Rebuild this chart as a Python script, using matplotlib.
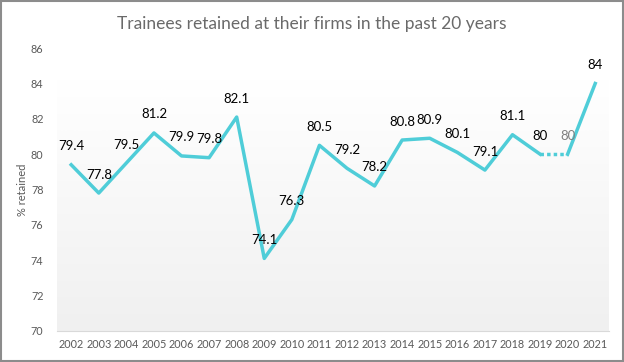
import numpy as np
import matplotlib.pyplot as plt
from matplotlib.colors import LinearSegmentedColormap

years = ['2002', '2003', '2004', '2005', '2006', '2007', '2008', '2009', '2010', '2011',
         '2012', '2013', '2014', '2015', '2016', '2017', '2018', '2019', '2020', '2021']
retained = [79.4, 77.8, 79.5, 81.2, 79.9, 79.8, 82.1, 74.1, 76.3, 80.5,
            79.2, 78.2, 80.8, 80.9, 80.1, 79.1, 81.1, 80, 80, 84]
labels = ['79.4', '77.8', '79.5', '81.2', '79.9', '79.8', '82.1', '74.1', '76.3', '80.5',
          '79.2', '78.2', '80.8', '80.9', '80.1', '79.1', '81.1', '80', '80', '84']

line_col = '#4FCDD8'
gray = '#595959'
plt.rcParams['font.family'] = ['Lato', 'DejaVu Sans']

fig = plt.figure(figsize=(6.24, 3.62), dpi=100)
ax = fig.add_axes([0.092, 0.086, 0.884, 0.781])

x = np.arange(len(years))
# solid segments, dotted 2019 -> 2020
ax.plot(x[:18], retained[:18], color=line_col, lw=2.5, zorder=3)
ax.plot(x[17:19], retained[17:19], color=line_col, lw=2.5, ls=(0, (1, 0.9)),
        dash_capstyle='butt', zorder=3)
ax.plot(x[18:], retained[18:], color=line_col, lw=2.5, zorder=3)

for i, (v, t) in enumerate(zip(retained, labels)):
    c = '#808080' if i == 18 else 'black'
    ax.annotate(t, (i, v), xytext=(0, 9), textcoords='offset points',
                ha='center', va='bottom', fontsize=9.5, color=c, zorder=4)

ax.set_xticks(x)
ax.set_xticklabels(years)
ax.set_yticks(np.arange(70, 87, 2))
ax.tick_params(axis='both', length=0, labelsize=7.8, colors=gray)
ax.tick_params(axis='y', pad=10)
ax.tick_params(axis='x', pad=6)
for s in ['top', 'right', 'left']:
    ax.spines[s].set_visible(False)
ax.spines['bottom'].set_color('#d9d9d9')
ax.set_ylabel('% retained', fontsize=8, color=gray, labelpad=2)

# background gradient of the plot area
cmap = LinearSegmentedColormap.from_list('bg', ['#f0f0f0', '#ffffff'])
grad = np.linspace(0, 1, 256).reshape(-1, 1)
ax.imshow(grad, aspect='auto', cmap=cmap, origin='lower',
          extent=(-0.5, len(years) - 0.5, 70, 84.2), zorder=0)
ax.set_xlim(-0.5, len(years) - 0.5)
ax.set_ylim(70, 86)

fig.text(0.5, 0.935, 'Trainees retained at their firms in the past 20 years',
         ha='center', va='center', fontsize=12.5, color='#6a6a6a')

fig.patches.append(plt.Rectangle((0.0015, 0.002), 0.997, 0.996, transform=fig.transFigure,
                                 fill=False, edgecolor='#8c8c8c', lw=1.5))

fig.savefig('out.png', dpi=100)
